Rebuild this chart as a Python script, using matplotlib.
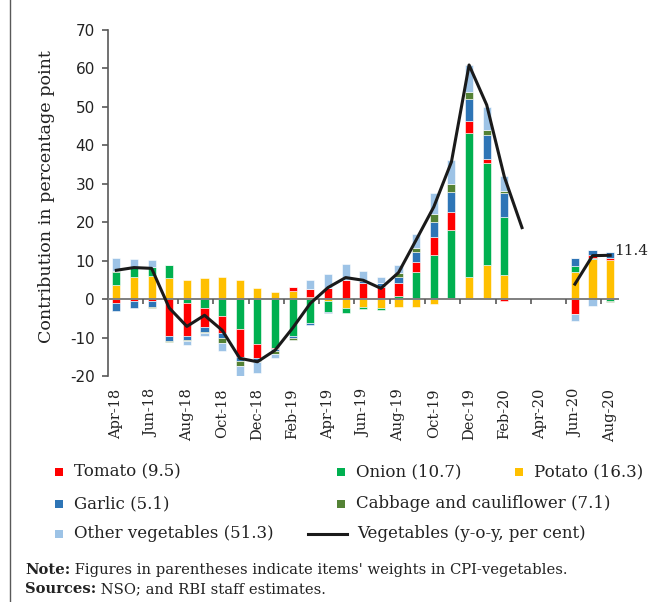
import numpy as np
import matplotlib
matplotlib.use('Agg')
import matplotlib.pyplot as plt
from matplotlib.patches import Rectangle
from matplotlib.lines import Line2D

months = ['Apr-18', 'May-18', 'Jun-18', 'Jul-18', 'Aug-18', 'Sep-18', 'Oct-18', 'Nov-18',
          'Dec-18', 'Jan-19', 'Feb-19', 'Mar-19', 'Apr-19', 'May-19', 'Jun-19', 'Jul-19',
          'Aug-19', 'Sep-19', 'Oct-19', 'Nov-19', 'Dec-19', 'Jan-20', 'Feb-20', 'Mar-20',
          'Apr-20', 'May-20', 'Jun-20', 'Jul-20', 'Aug-20']

nan = np.nan
tomato = [-0.9, -0.4, -0.5, -9.6, -8.5, -4.8, -4.6, -7.2, -3.7, -0.3, 0.9, 2.1, 2.9, 5.1, 4.2,
          3.2, 3.5, 2.6, 4.8, 4.6, 2.9, 1.1, -0.4, nan, nan, nan, -3.9, 0.7, 0.7]
onion = [3.5, 2.2, 2.3, 3.5, -1.1, -2.4, -4.3, -7.8, -11.7, -12.6, -9.6, -6.2, -2.9, -1.1, -0.5,
         -0.7, 0.7, 7.1, 11.4, 17.7, 37.5, 26.6, 15.0, nan, nan, nan, 1.4, 0.4, -0.5]
potato = [3.6, 5.8, 6.0, 5.4, 4.9, 5.4, 5.8, 4.9, 2.8, 1.9, 2.2, 0.5, -0.4, -2.4, -2.0,
          -2.2, -2.0, -2.0, -1.4, 0.4, 5.8, 8.8, 6.4, nan, nan, nan, 7.1, 10.4, 10.1]
garlic = [-2.2, -2.0, -1.5, -1.2, -1.0, -1.3, -1.3, -1.1, -0.7, -0.7, -0.6, -0.6, -0.3, 0.0, 0.4,
          0.9, 1.6, 2.6, 3.9, 5.2, 5.9, 6.1, 6.1, nan, nan, nan, 2.1, 1.2, 1.5]
cabbage = [0.2, 0.1, -0.3, -0.3, -0.3, -0.4, -1.1, -1.2, -0.2, -0.6, -0.4, 0.0, 0.0, 0.0, 0.0,
           0.0, 0.9, 1.1, 2.0, 2.0, 1.9, 1.3, 0.7, nan, nan, nan, 0.0, 0.0, -0.3]
other = [3.3, 2.3, 1.9, 0.0, -1.0, -0.6, -2.3, -3.1, -2.9, -1.0, 0.0, 2.4, 3.6, 4.0, 2.6,
         1.7, 2.3, 3.6, 5.6, 6.2, 6.9, 6.2, 3.9, nan, nan, nan, -1.7, -1.7, 0.0]
vegetables = [7.5, 8.2, 8.0, -2.3, -7.1, -4.2, -8.1, -15.4, -16.3, -13.3, -7.5, -1.1, 3.0, 5.6, 4.9,
              2.8, 6.9, 15.4, 24.0, 35.7, 60.9, 50.5, 31.8, 18.6, nan, nan, 3.9, 11.3, 11.4]

W, H = 653, 602
fig = plt.figure(figsize=(W / 100, H / 100), dpi=100, facecolor='white')
ax = fig.add_axes([107.5 / W, 1 - 376 / H, (619 - 107.5) / W, (376 - 30) / H])

x = np.arange(len(months))
# stacking order as in the source chart (bottom up)
stack = [('Potato', potato, '#FFC000'),
         ('Onion', onion, '#00B050'),
         ('Tomato', tomato, '#FF0000'),
         ('Garlic', garlic, '#2E75B6'),
         ('Cabbage', cabbage, '#548235'),
         ('Other', other, '#9DC3E6')]

pos = np.zeros(len(x))
neg = np.zeros(len(x))
for name, vals, col in stack:
    v = np.nan_to_num(np.array(vals, dtype=float))
    bottom = np.where(v >= 0, pos, neg)
    ax.bar(x, v, bottom=bottom, width=0.46, color=col, edgecolor='white', linewidth=0.4, zorder=2)
    pos = pos + np.where(v >= 0, v, 0)
    neg = neg + np.where(v < 0, v, 0)

ax.axhline(0, color='#7f7f7f', lw=1.4, zorder=3)
ax.vlines(np.arange(2, len(x) + 1, 2) - 0.5, -1.3, 0, color='#595959', lw=1.2, zorder=3)
ax.plot(x, vegetables, color='#1a1a1a', lw=2.2, zorder=4)
ax.annotate('11.4', xy=(x[-1], vegetables[-1]), xytext=(3, 3), textcoords='offset points',
            ha='left', va='center', fontsize=11, family='DejaVu Serif', color='#222222',
            annotation_clip=False)

ax.set_xlim(-0.5, len(x) - 0.5)
ax.set_ylim(-20, 70)
ax.set_yticks(range(-20, 71, 10))
ax.set_yticklabels([str(v) for v in range(-20, 71, 10)], fontsize=11, family='DejaVu Sans', color='#222222')
ax.set_xticks(x[::2])
ax.set_xticklabels(months[::2], rotation=90, fontsize=10.5, family='DejaVu Serif', color='#222222')
ax.tick_params(axis='x', length=0, pad=9)
ax.tick_params(axis='y', length=4, width=1.2, color='#595959', pad=5)
for s in ['top', 'right', 'bottom']:
    ax.spines[s].set_visible(False)
ax.spines['left'].set_color('#595959')
ax.spines['left'].set_linewidth(1.2)

fig.text(47 / W, 1 - 197 / H, 'Contribution in percentage point', rotation=90, ha='center', va='center',
         fontsize=12.6, family='DejaVu Serif', color='#222222')

# legend
def px(xp, yp):
    return xp / W, 1 - yp / H

legend_items = [('sq', '#FF0000', 'Tomato (9.5)', 55, 472),
                ('sq', '#00B050', 'Onion (10.7)', 337, 472),
                ('sq', '#FFC000', 'Potato (16.3)', 515, 472),
                ('sq', '#2E75B6', 'Garlic (5.1)', 55, 504),
                ('sq', '#548235', 'Cabbage and cauliflower (7.1)', 337, 504),
                ('sq', '#9DC3E6', 'Other vegetables (51.3)', 55, 534),
                ('ln', '#1a1a1a', 'Vegetables (y-o-y, per cent)', 308, 534)]
for kind, col, label, lx, ly in legend_items:
    if kind == 'sq':
        x0, y0 = px(lx, ly + 4)
        fig.add_artist(Rectangle((x0, y0), 8 / W, 8 / H, transform=fig.transFigure,
                                 facecolor=col, edgecolor='none'))
        tx = lx + 19
    else:
        x0, y0 = px(lx, ly)
        x1, _ = px(lx + 39, ly)
        fig.add_artist(Line2D([x0, x1], [y0, y0], transform=fig.transFigure, color=col, lw=2.2))
        tx = lx + 49
    fig.text(*px(tx, ly), label, ha='left', va='center', fontsize=12, family='DejaVu Serif', color='#222222')

renderer = fig.canvas.get_renderer()
for bold, rest, ny in [('Note:', ' Figures in parentheses indicate items\' weights in CPI-vegetables.', 574),
                       ('Sources:', ' NSO; and RBI staff estimates.', 593)]:
    tb = fig.text(*px(25, ny), bold, fontweight='bold', fontsize=10.6, family='DejaVu Serif',
                  ha='left', va='baseline', color='#222222')
    w = tb.get_window_extent(renderer).width / fig.bbox.width
    fig.text(25 / W + w, 1 - ny / H, rest, fontsize=10.6, family='DejaVu Serif',
             ha='left', va='baseline', color='#222222')

fig.add_artist(Line2D([10 / W, 10 / W], [0, 1], transform=fig.transFigure, color='#595959', lw=1.0))

plt.savefig('out.png', dpi=100)
